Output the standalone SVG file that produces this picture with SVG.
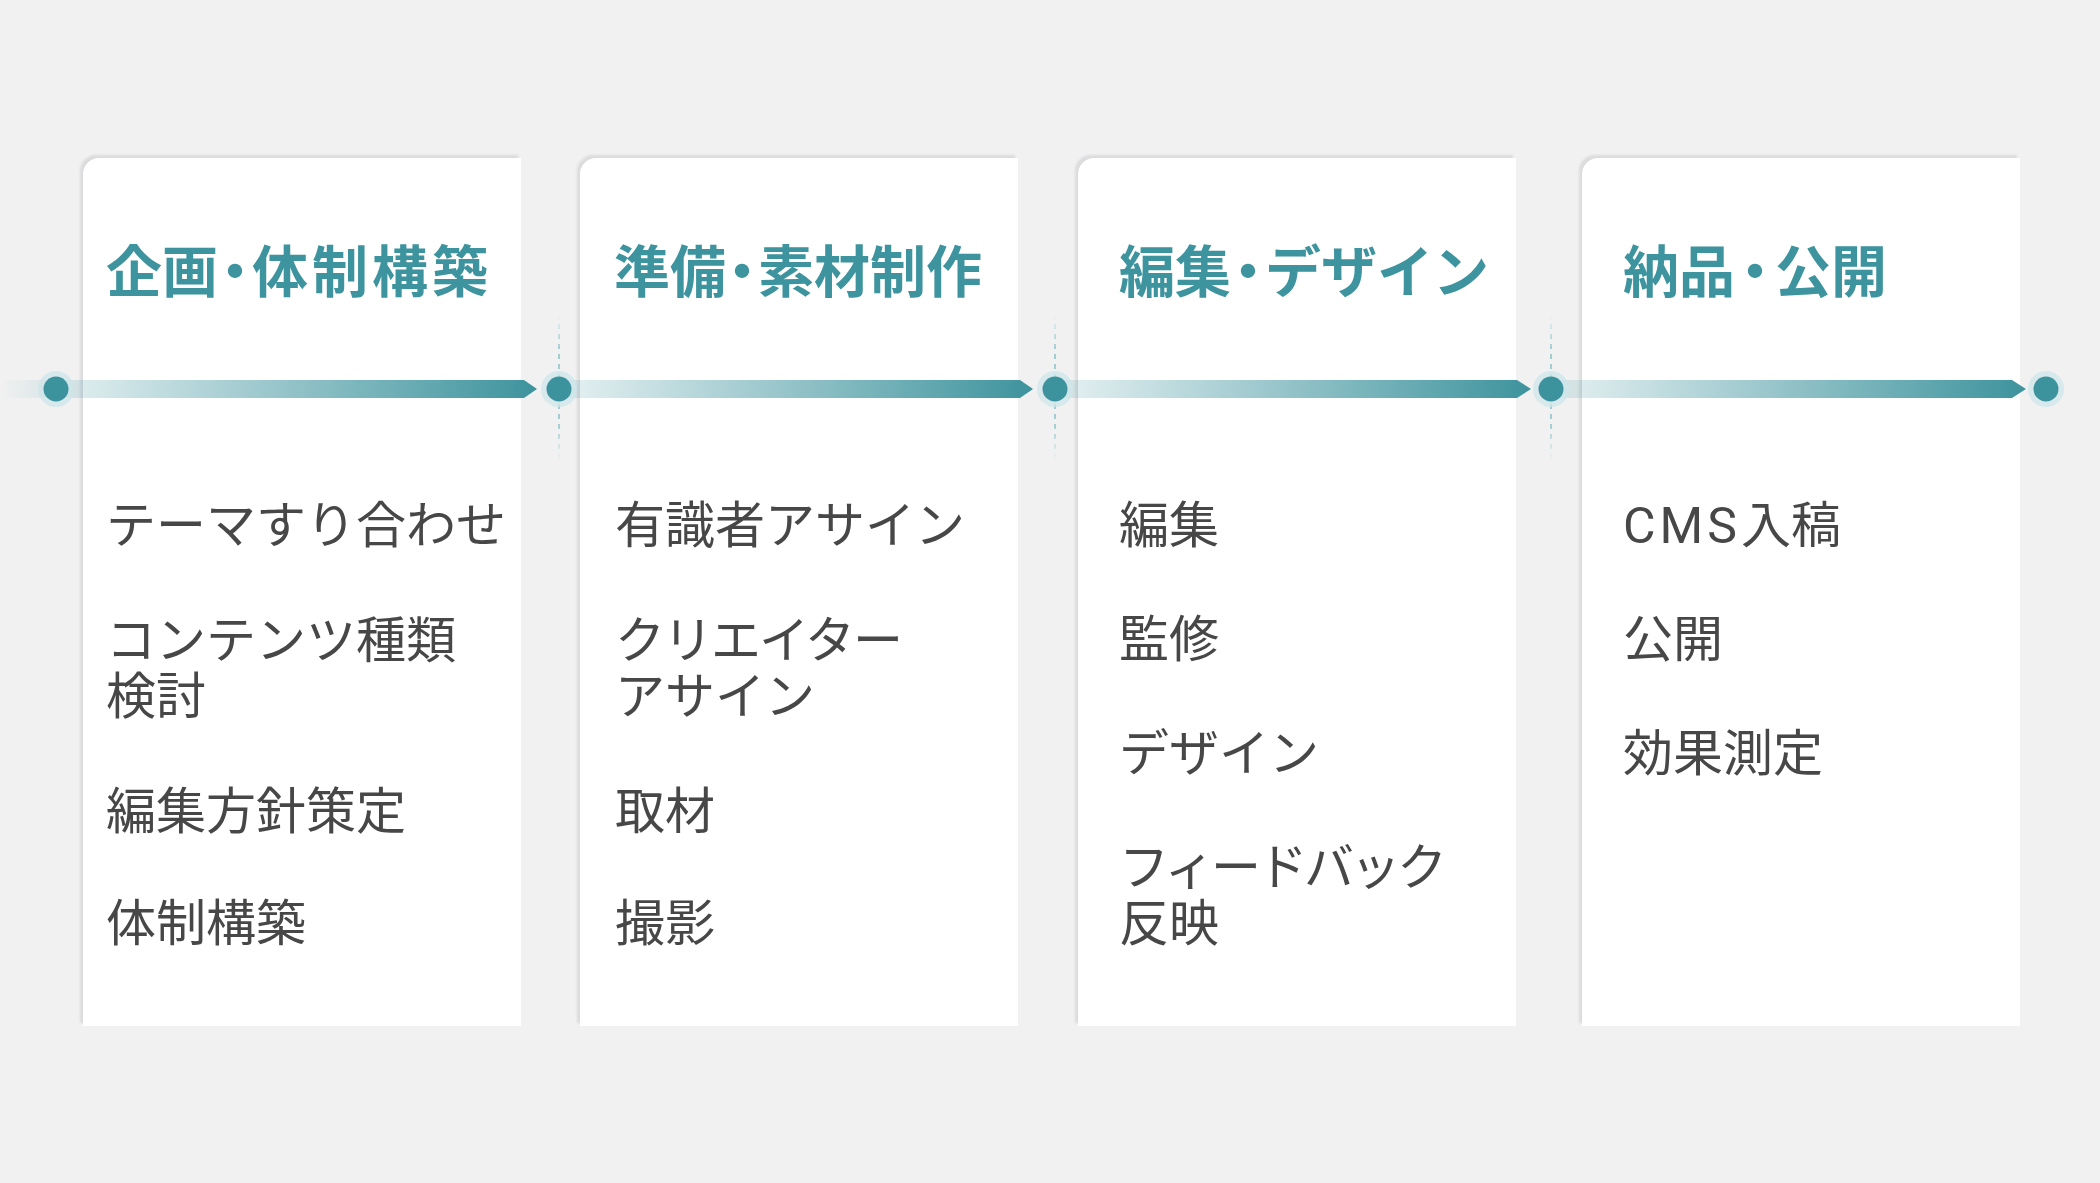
<svg xmlns="http://www.w3.org/2000/svg" width="2100" height="1183" viewBox="0 0 2100 1183">
<defs>
<style>
.bg{fill:#f1f1f1}
.card{fill:#ffffff}
.shadow{fill:#dcdcdf;filter:url(#blur)}
.title{font-family:"Noto Sans CJK JP","Noto Sans",sans-serif;font-weight:700;font-size:56px;fill:#3e949e}
.pd{font-feature-settings:"palt" 1}
.item{font-family:"Roboto","Noto Sans CJK JP","Noto Sans",sans-serif;font-weight:400;font-size:50px;fill:#474747}
.dot{fill:#3d939d}
.halo{fill:#cde6e9;opacity:0.75}
.dash{fill:none;stroke:url(#dashGrad);stroke-width:1.6;stroke-dasharray:5 5}
</style>
<filter id="blur" x="-5%" y="-5%" width="110%" height="110%"><feGaussianBlur stdDeviation="1.2"/></filter>
<linearGradient id="band1" x1="0" y1="0" x2="1" y2="0">
<stop offset="0" stop-color="#3d939d" stop-opacity="0"/>
<stop offset="0.1" stop-color="#3d939d" stop-opacity="0.13"/>
<stop offset="1" stop-color="#3d939d" stop-opacity="1"/>
</linearGradient>
<linearGradient id="band" x1="0" y1="0" x2="1" y2="0">
<stop offset="0" stop-color="#3d939d" stop-opacity="0.12"/>
<stop offset="1" stop-color="#3d939d" stop-opacity="1"/>
</linearGradient>
<linearGradient id="dashGrad" gradientUnits="userSpaceOnUse" x1="0" y1="314" x2="0" y2="460">
<stop offset="0" stop-color="#8ec4ca" stop-opacity="0"/>
<stop offset="0.25" stop-color="#8ec4ca" stop-opacity="1"/>
<stop offset="0.75" stop-color="#8ec4ca" stop-opacity="1"/>
<stop offset="1" stop-color="#8ec4ca" stop-opacity="0"/>
</linearGradient>
</defs>
<rect class="bg" x="0" y="0" width="2100" height="1183"/>

<g id="card1">
<path class="shadow" d="M80,1023 L80,171 A16,16 0 0 1 96,155 L518,155 L518,1023 Z"/>
<path class="card" d="M83,1026 L83,174 A16,16 0 0 1 99,158 L521,158 L521,1026 Z"/>
<text class="title" x="106" y="292">企画<tspan class="pd" dx="3" letter-spacing="3">・</tspan><tspan letter-spacing="4">体制構築</tspan></text>
<text class="item" x="106" y="543">テーマすり合わせ</text>
<text class="item" x="106" y="658">コンテンツ種類<tspan x="106" y="714">検討</tspan></text>
<text class="item" x="106" y="829">編集方針策定</text>
<text class="item" x="106" y="941">体制構築</text>
</g>

<g id="card2">
<path class="shadow" d="M577,1023 L577,171 A16,16 0 0 1 593,155 L1015,155 L1015,1023 Z"/>
<path class="card" d="M580,1026 L580,174 A16,16 0 0 1 596,158 L1018,158 L1018,1026 Z"/>
<text class="title" x="614" y="292">準備<tspan class="pd" dx="2" letter-spacing="2">・</tspan>素材制作</text>
<text class="item" x="615" y="543">有識者アサイン</text>
<text class="item" x="615" y="658" textLength="288" lengthAdjust="spacing">クリエイター</text>
<text class="item" x="615" y="714">アサイン</text>
<text class="item" x="615" y="829">取材</text>
<text class="item" x="615" y="941">撮影</text>
</g>

<g id="card3">
<path class="shadow" d="M1075,1023 L1075,171 A16,16 0 0 1 1091,155 L1513,155 L1513,1023 Z"/>
<path class="card" d="M1078,1026 L1078,174 A16,16 0 0 1 1094,158 L1516,158 L1516,1026 Z"/>
<text class="title" x="1119" y="292">編集<tspan class="pd" dx="3" letter-spacing="3">・</tspan>デザイン</text>
<text class="item" x="1119" y="543">編集</text>
<text class="item" x="1119" y="657">監修</text>
<text class="item" x="1119" y="771">デザイン</text>
<text class="item" x="1119" y="885" textLength="328" lengthAdjust="spacing">フィードバック</text>
<text class="item" x="1119" y="941">反映</text>
</g>

<g id="card4">
<path class="shadow" d="M1579,1023 L1579,171 A16,16 0 0 1 1595,155 L2017,155 L2017,1023 Z"/>
<path class="card" d="M1582,1026 L1582,174 A16,16 0 0 1 1598,158 L2020,158 L2020,1026 Z"/>
<text class="title" x="1623" y="292">納品<tspan class="pd" dx="6" letter-spacing="6">・</tspan>公開</text>
<text class="item" x="1623" y="543"><tspan letter-spacing="4">CMS</tspan>入稿</text>
<text class="item" x="1623" y="657">公開</text>
<text class="item" x="1623" y="771">効果測定</text>
</g>

<g id="connectors">
<line class="dash" x1="559" y1="314" x2="559" y2="460"/>
<line class="dash" x1="1055" y1="314" x2="1055" y2="460"/>
<line class="dash" x1="1551" y1="314" x2="1551" y2="460"/>
<path fill="url(#band1)" d="M0,380 L524,380 L537,389 L524,398 L0,398 Z"/>
<path fill="url(#band)" d="M559,380 L1020,380 L1033,389 L1020,398 L559,398 Z"/>
<path fill="url(#band)" d="M1055,380 L1517,380 L1531,389 L1517,398 L1055,398 Z"/>
<path fill="url(#band)" d="M1551,380 L2012,380 L2026,389 L2012,398 L1551,398 Z"/>
<circle class="halo" cx="56" cy="389" r="18"/>
<circle class="dot" cx="56" cy="389" r="12.5"/>
<circle class="halo" cx="559" cy="389" r="18"/>
<circle class="dot" cx="559" cy="389" r="12.5"/>
<circle class="halo" cx="1055" cy="389" r="18"/>
<circle class="dot" cx="1055" cy="389" r="12.5"/>
<circle class="halo" cx="1551" cy="389" r="18"/>
<circle class="dot" cx="1551" cy="389" r="12.5"/>
<circle class="halo" cx="2046" cy="389" r="18"/>
<circle class="dot" cx="2046" cy="389" r="12.5"/>
</g>
</svg>
